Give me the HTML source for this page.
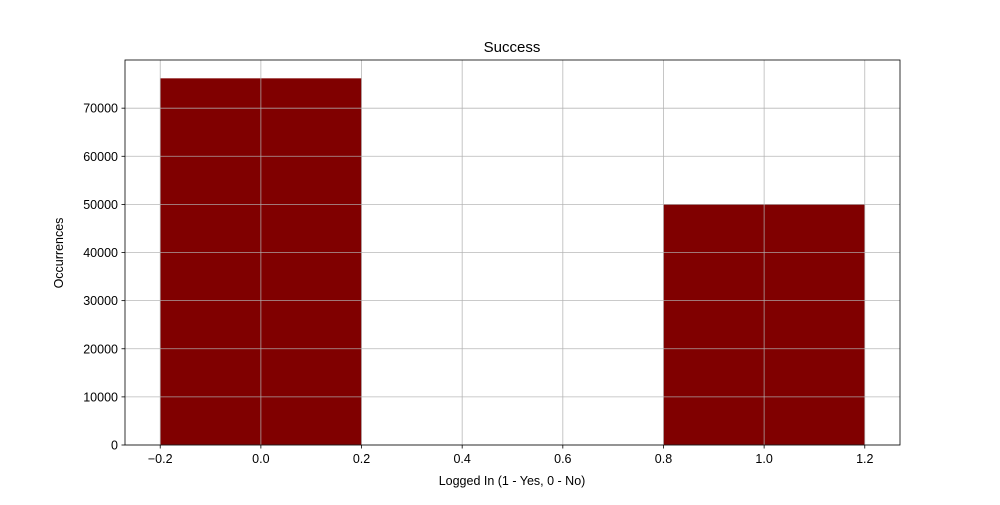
<!DOCTYPE html>
<html><head><meta charset="utf-8"><style>
body{margin:0;background:#fff;}
svg text{font-family:"Liberation Sans","DejaVu Sans",sans-serif;fill:#000;}
</style></head><body>
<svg id="chart" width="1000" height="500">
<rect width="1000" height="500" fill="#fff"/>
<g id="bars"></g><g id="grid"></g><g id="axes"></g>
</svg>
<script>
const binLefts = [-0.2, 0.8];
const binWidths = [0.4, 0.4];
const counts = [76200, 50000];
const xTicks = [-0.2, 0.0, 0.2, 0.4, 0.6, 0.8, 1.0, 1.2];
const xTickLabels = ["\u22120.2","0.0","0.2","0.4","0.6","0.8","1.0","1.2"];
const yTicks = [0,10000,20000,30000,40000,50000,60000,70000];
const yTickLabels = ["0","10000","20000","30000","40000","50000","60000","70000"];

const L=125,R=900,T=60,B=445;
const xmin=-0.27, xmax=1.27, ymax=Math.max(...counts)*1.05;
const sx=v=>L+(v-xmin)/(xmax-xmin)*(R-L);
const sy=v=>B-v/ymax*(B-T);
const NS="http://www.w3.org/2000/svg";
function mk(parent,tag,attrs){const e=document.createElementNS(NS,tag);for(const k in attrs)e.setAttribute(k,attrs[k]);parent.appendChild(e);return e;}
const bars=document.getElementById('bars'),grid=document.getElementById('grid'),axes=document.getElementById('axes');
counts.forEach((c,i)=>{
  const x0=sx(binLefts[i]),x1=sx(binLefts[i]+binWidths[i]);
  const r=mk(bars,'rect',{x:x0,y:sy(c),width:x1-x0,height:B-sy(c),fill:'#800000'});
  
  
});
xTicks.forEach((v,i)=>{
  const x=sx(v);
  const g=mk(grid,'line',{x1:x,x2:x,y1:T,y2:B,stroke:'#b0b0b0','stroke-width':0.8,'stroke-opacity':0.9});
  
  
  mk(axes,'line',{x1:x,x2:x,y1:B,y2:B+3.5,stroke:'#000','stroke-width':0.8});
  const t=mk(axes,'text',{x:x,y:B+18,'text-anchor':'middle','font-size':'12.5'});
  t.textContent=xTickLabels[i];
  
  
});
yTicks.forEach((v,i)=>{
  const y=sy(v);
  const g=mk(grid,'line',{x1:L,x2:R,y1:y,y2:y,stroke:'#b0b0b0','stroke-width':0.8,'stroke-opacity':0.9});
  
  
  mk(axes,'line',{x1:L-3.5,x2:L,y1:y,y2:y,stroke:'#000','stroke-width':0.8});
  const t=mk(axes,'text',{x:L-7,y:y+4.5,'text-anchor':'end','font-size':'12.5'});
  t.textContent=yTickLabels[i];
  
  
});
const fr=mk(axes,'rect',{x:L,y:T,width:R-L,height:B-T,fill:'none',stroke:'#000','stroke-width':0.8});


</script>
<svg style="position:absolute;left:0;top:0" width="1000" height="500">
<text x="512" y="52" text-anchor="middle" font-size="15">Success</text>
<text x="512" y="485" text-anchor="middle" font-size="12.5">Logged In (1 - Yes, 0 - No)</text>
<text x="0" y="0" transform="translate(63,253) rotate(-90)" text-anchor="middle" font-size="12.5">Occurrences</text>
</svg>
</body></html>
